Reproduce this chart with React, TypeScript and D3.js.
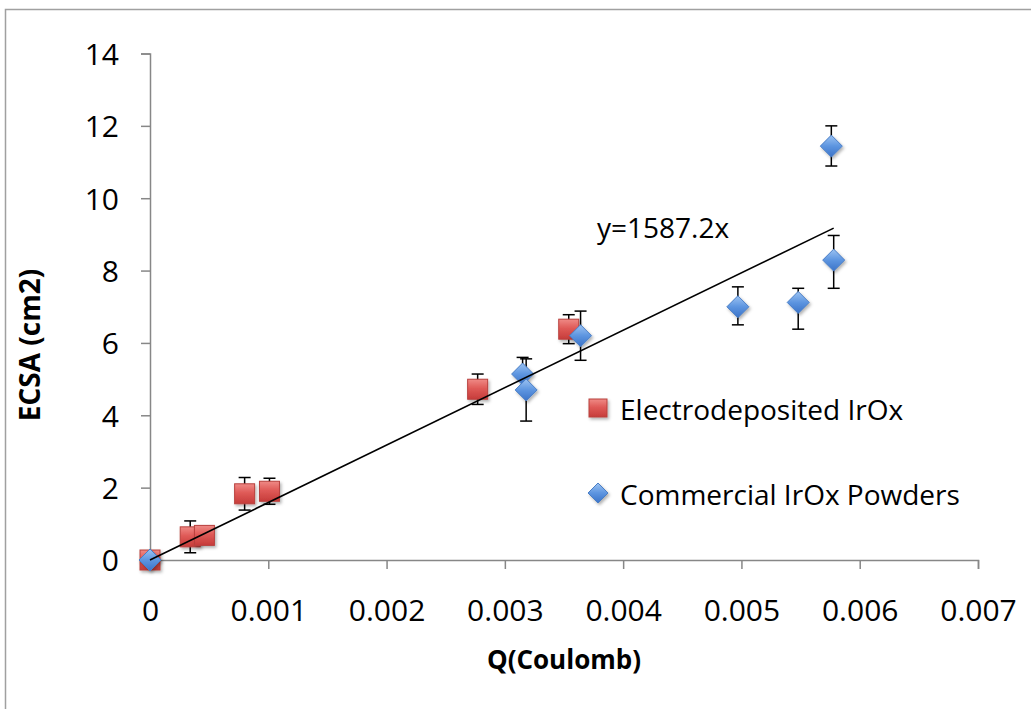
import React, { useEffect, useRef } from "react";
import * as d3 from "d3";

// ---- Data ----
const xTicks = [0, 0.001, 0.002, 0.003, 0.004, 0.005, 0.006, 0.007];
const xTickLabels = ["0", "0.001", "0.002", "0.003", "0.004", "0.005", "0.006", "0.007"];
const yTicks = [0, 2, 4, 6, 8, 10, 12, 14];
const yTickLabels = ["0", "2", "4", "6", "8", "10", "12", "14"];

const electroQ = [0, 0.00034, 0.00046, 0.0008, 0.00101, 0.00277, 0.00354];
const electroECSA = [0, 0.64, 0.68, 1.83, 1.9, 4.72, 6.38];
const electroErrPlus = [0, 0.44, 0.2, 0.45, 0.36, 0.42, 0.4];
const electroErrMinus = [0, 0.44, 0.2, 0.45, 0.36, 0.42, 0.4];

const commQ = [0, 0.00315, 0.00318, 0.00364, 0.00497, 0.00548, 0.00576, 0.00578];
const commECSA = [0, 5.14, 4.7, 6.2, 7.0, 7.12, 11.44, 8.29];
const commErrPlus = [0, 0.46, 0.86, 0.68, 0.55, 0.39, 0.56, 0.68];
const commErrMinus = [0, 0.46, 0.86, 0.68, 0.5, 0.74, 0.55, 0.78];

const slope = 1587.2;
const trendLabel = "y=1587.2x";
const seriesNames = ["Electrodeposited IrOx", "Commercial IrOx Powders"];
const xTitle = "Q(Coulomb)";
const yTitle = "ECSA (cm2)";

const W = 1031;
const H = 709;
const FONT = "'Open Sans', 'DejaVu Sans', sans-serif";

export default function App() {
  const ref = useRef<SVGSVGElement | null>(null);

  useEffect(() => {
    const svg = d3.select(ref.current);
    svg.selectAll("*").remove();

    const x = d3.scaleLinear().domain([0, 0.007]).range([150, 978]);
    const y = d3.scaleLinear().domain([0, 14]).range([560, 53.5]);

    const defs = svg.append("defs");
    const rg = defs.append("linearGradient").attr("id", "redG").attr("x1", 0).attr("y1", 0).attr("x2", 0).attr("y2", 1);
    rg.append("stop").attr("offset", "0%").attr("stop-color", "#ef8a86");
    rg.append("stop").attr("offset", "45%").attr("stop-color", "#df5a57");
    rg.append("stop").attr("offset", "100%").attr("stop-color", "#c63c3a");
    const bg = defs.append("linearGradient").attr("id", "blueG").attr("x1", 0).attr("y1", 0).attr("x2", 0).attr("y2", 1);
    bg.append("stop").attr("offset", "0%").attr("stop-color", "#9cc3f2");
    bg.append("stop").attr("offset", "50%").attr("stop-color", "#5d95e0");
    bg.append("stop").attr("offset", "100%").attr("stop-color", "#3b73c8");
    const sh = defs.append("filter").attr("id", "shadow").attr("x", "-50%").attr("y", "-50%").attr("width", "200%").attr("height", "200%");
    sh.append("feDropShadow").attr("dx", 1.5).attr("dy", 2).attr("stdDeviation", 1.5).attr("flood-color", "#000").attr("flood-opacity", 0.3);

    svg.append("rect").attr("x", 0).attr("y", 0).attr("width", W).attr("height", H).attr("fill", "#fff");

    // outer frame (top + left)
    svg.append("path").attr("d", `M5.5,${H} L5.5,9.5 L${W},9.5`).attr("fill", "none").attr("stroke", "#a0a0a0").attr("stroke-width", 1.5);

    // axes
    const xAxis = d3.axisBottom(x).tickValues(xTicks).tickSize(9).tickFormat((d, i) => xTickLabels[i]);
    const gx = svg.append("g").attr("transform", `translate(0,${y(0)})`).call(xAxis);
    gx.select(".domain").attr("stroke", "#878787").attr("stroke-width", 1.5);
    gx.selectAll(".tick line").attr("stroke", "#878787").attr("stroke-width", 1.5);
    gx.selectAll(".tick text").attr("font-family", FONT).attr("font-size", 30).attr("fill", "#000").attr("dy", 0).attr("y", 61);

    const yAxis = d3.axisLeft(y).tickValues(yTicks).tickSize(9).tickFormat((d, i) => yTickLabels[i]);
    const gy = svg.append("g").attr("transform", `translate(${x(0)},0)`).call(yAxis);
    gy.select(".domain").attr("stroke", "#878787").attr("stroke-width", 1.5);
    gy.selectAll(".tick line").attr("stroke", "#878787").attr("stroke-width", 1.5);
    gy.selectAll(".tick text").attr("font-family", FONT).attr("font-size", 30).attr("fill", "#000").attr("x", -31).attr("dy", "0.36em");

    // axis titles
    svg.append("text").attr("x", 564).attr("y", 669).attr("text-anchor", "middle").attr("font-family", FONT)
      .attr("font-weight", "bold").attr("font-size", 26).attr("fill", "#000").text(xTitle);
    svg.append("text").attr("transform", `translate(40,345) rotate(-90)`).attr("text-anchor", "middle").attr("font-family", FONT)
      .attr("font-weight", "bold").attr("font-size", 28).attr("fill", "#000").text(yTitle);

    const cap = 6;
    const drawErr = (g: any, qs: number[], vs: number[], ep: number[], em: number[]) => {
      qs.forEach((q, i) => {
        if (ep[i] === 0 && em[i] === 0) return;
        const cx = x(q);
        const top = y(vs[i] + ep[i]);
        const bot = y(vs[i] - em[i]);
        g.append("line").attr("x1", cx).attr("x2", cx).attr("y1", top).attr("y2", bot).attr("stroke", "#000").attr("stroke-width", 1.5);
        g.append("line").attr("x1", cx - cap).attr("x2", cx + cap).attr("y1", top).attr("y2", top).attr("stroke", "#000").attr("stroke-width", 1.5);
        g.append("line").attr("x1", cx - cap).attr("x2", cx + cap).attr("y1", bot).attr("y2", bot).attr("stroke", "#000").attr("stroke-width", 1.5);
      });
    };

    const sq = 20;
    const drawSquare = (g: any, cx: number, cy: number, s: number) =>
      g.append("rect").attr("x", cx - s / 2).attr("y", cy - s / 2).attr("width", s).attr("height", s)
        .attr("fill", "url(#redG)").attr("stroke", "#b8403d").attr("stroke-width", 1).attr("filter", "url(#shadow)");
    const drawDiamond = (g: any, cx: number, cy: number, r: number) =>
      g.append("path").attr("d", `M${cx},${cy - r} L${cx + r},${cy} L${cx},${cy + r} L${cx - r},${cy} Z`)
        .attr("fill", "url(#blueG)").attr("stroke", "#4a7ec6").attr("stroke-width", 1).attr("filter", "url(#shadow)");

    const plot = svg.append("g");
    const g1 = plot.append("g");
    drawErr(g1, electroQ, electroECSA, electroErrPlus, electroErrMinus);
    electroQ.forEach((q, i) => drawSquare(g1, x(q), y(electroECSA[i]), sq));
    const g2 = plot.append("g");
    drawErr(g2, commQ, commECSA, commErrPlus, commErrMinus);
    commQ.forEach((q, i) => drawDiamond(g2, x(q), y(commECSA[i]), 11));

    // trend line
    const xmax = d3.max(commQ.concat(electroQ)) as number;
    const line = d3.line<number>().x((q) => x(q)).y((q) => y(slope * q));
    plot.append("path").attr("d", line([0, xmax])).attr("fill", "none").attr("stroke", "#000").attr("stroke-width", 1.6);

    svg.append("text").attr("x", 597).attr("y", 238).attr("font-family", FONT).attr("font-size", 28).attr("fill", "#000").text(trendLabel);

    // legend
    drawSquare(svg, 598, 408, 18);
    svg.append("text").attr("x", 620).attr("y", 420).attr("font-family", FONT).attr("font-size", 28).attr("fill", "#000").text(seriesNames[0]);
    drawDiamond(svg, 598, 493, 10);
    svg.append("text").attr("x", 620).attr("y", 505).attr("font-family", FONT).attr("font-size", 28).attr("fill", "#000").text(seriesNames[1]);
  }, []);

  return (
    <svg ref={ref} width={W} height={H} style={{ position: "absolute", left: 0, top: 0, display: "block" }} />
  );
}
